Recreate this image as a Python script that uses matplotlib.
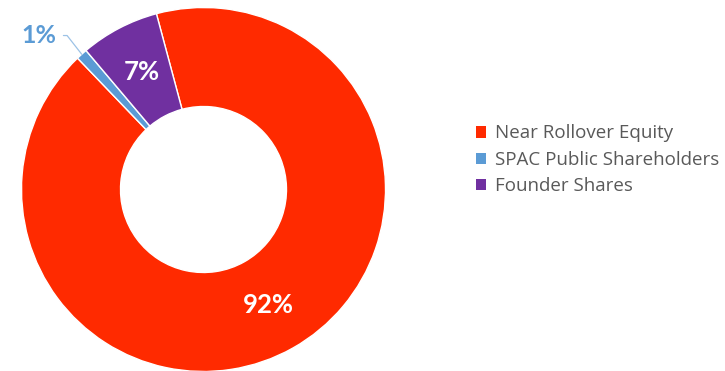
import numpy as np
import matplotlib
matplotlib.use("Agg")
import matplotlib.pyplot as plt
from matplotlib.patches import Patch

categories = ["Near Rollover Equity", "SPAC Public Shareholders", "Founder Shares"]
shares = [92, 1, 7]
colors = ["#FF2A00", "#5B9BD5", "#7030A0"]

plt.rcParams["font.family"] = ["Lato", "DejaVu Sans"]

fig = plt.figure(figsize=(7.25, 3.71), dpi=100)
W, H = 725, 371

# donut axes: square, centred on the ring
cx, cy, r = 203.5, 181.5, 182
ax = fig.add_axes([(cx - r) / W, (cy - r) / H, 2 * r / W, 2 * r / H])

start = 105
wedges, _ = ax.pie(shares, colors=colors, startangle=start, counterclock=False,
                   radius=1.0, wedgeprops=dict(width=0.544, edgecolor="white", linewidth=1.0))
ax.set_xlim(-1, 1)
ax.set_ylim(-1, 1)
ax.set_aspect("equal")
ax.axis("off")

ring_mid = 1 - 0.544 / 2
for w, val in zip(wedges, shares):
    mid = np.deg2rad((w.theta1 + w.theta2) / 2)
    if val >= 5:
        ax.text(ring_mid * np.cos(mid), ring_mid * np.sin(mid), f"{val}%",
                ha="center", va="center", color="white", fontsize=18.5, fontweight="bold")
    else:
        ax.annotate(f"{val}%", xy=(np.cos(mid), np.sin(mid)), xytext=(-0.904, 0.846),
                    ha="center", va="center", color=colors[1], fontsize=18, fontweight="bold",
                    arrowprops=dict(arrowstyle="-", color="#9CC2E6", lw=0.9,
                                    connectionstyle="angle,angleA=0,angleB=-52,rad=0",
                                    shrinkA=3, shrinkB=0))

handles = [Patch(facecolor=c, edgecolor="none") for c in colors]
fig.legend(handles, categories, loc="upper left", bbox_to_anchor=(476 / W, 1 - 124.5 / H),
           frameon=False, labelcolor="#595959",
           prop=dict(family=["Open Sans", "DejaVu Sans"], size=13.5),
           handlelength=0.55, handleheight=0.55, handletextpad=0.45,
           labelspacing=0.45, borderpad=0, borderaxespad=0)

fig.savefig("out.png", dpi=100, facecolor="white")
